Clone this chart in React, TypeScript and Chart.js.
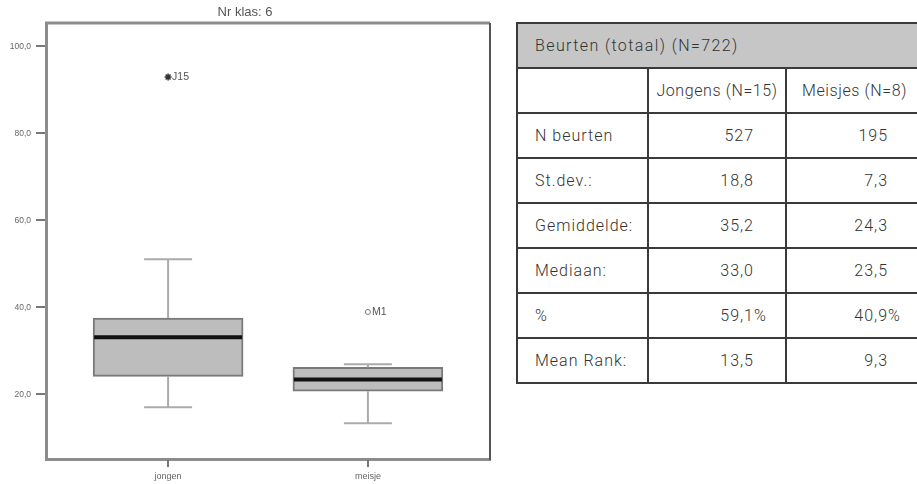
import React, { useEffect, useRef } from 'react';
import { Chart, registerables } from 'chart.js';

Chart.register(...registerables);

// ---- chart data ----
const categories = ['jongen', 'meisje'];
const whiskerLow = [17.0, 13.3];
const q1 = [24.1, 20.7];
const median = [33.1, 23.4];
const q3 = [37.5, 26.2];
const whiskerHigh = [51.0, 26.9];
const outlierValues = [92.9, 38.9];
const outlierLabels = ['J15', 'M1'];
const yTicks = [20, 40, 60, 80, 100];
const chartTitle = 'Nr klas: 6';

// ---- table data ----
const tableTitle = 'Beurten (totaal) (N=722)';
const groupHeaders = ['Jongens (N=15)', 'Meisjes (N=8)'];
const rowLabels = ['N beurten', 'St.dev.:', 'Gemiddelde:', 'Mediaan:', '%', 'Mean Rank:'];
const jongensValues = ['527', '18,8', '35,2', '33,0', '59,1%', '13,5'];
const meisjesValues = ['195', '7,3', '24,3', '23,5', '40,9%', '9,3'];

const BOX_PX = 150;
const CAP_PX = 48;
const FONT = '"Liberation Sans", Arial, sans-serif';

const boxPlugin = {
  id: 'boxExtras',
  afterDatasetsDraw(chart: any) {
    const { ctx, scales } = chart;
    const xs = scales.x;
    const ys = scales.y;
    ctx.save();
    categories.forEach((_, i) => {
      const cx = xs.getPixelForValue(i);
      // whiskers
      ctx.strokeStyle = '#ababab';
      ctx.lineWidth = 2;
      ctx.beginPath();
      ctx.moveTo(cx, ys.getPixelForValue(q3[i]));
      ctx.lineTo(cx, ys.getPixelForValue(whiskerHigh[i]));
      ctx.moveTo(cx, ys.getPixelForValue(q1[i]));
      ctx.lineTo(cx, ys.getPixelForValue(whiskerLow[i]));
      ctx.moveTo(cx - CAP_PX / 2, ys.getPixelForValue(whiskerHigh[i]));
      ctx.lineTo(cx + CAP_PX / 2, ys.getPixelForValue(whiskerHigh[i]));
      ctx.moveTo(cx - CAP_PX / 2, ys.getPixelForValue(whiskerLow[i]));
      ctx.lineTo(cx + CAP_PX / 2, ys.getPixelForValue(whiskerLow[i]));
      ctx.stroke();
      // median
      ctx.strokeStyle = '#111';
      ctx.lineWidth = 4;
      ctx.beginPath();
      ctx.moveTo(cx - BOX_PX / 2 + 1, ys.getPixelForValue(median[i]));
      ctx.lineTo(cx + BOX_PX / 2 - 1, ys.getPixelForValue(median[i]));
      ctx.stroke();
      // outlier label
      ctx.fillStyle = '#555';
      ctx.font = '10.5px ' + FONT;
      ctx.textBaseline = 'middle';
      ctx.textAlign = 'left';
      ctx.fillText(outlierLabels[i], cx + 4, ys.getPixelForValue(outlierValues[i]));
    });
    ctx.restore();
  },
  afterDraw(chart: any) {
    const { ctx, chartArea, scales } = chart;
    ctx.save();
    // tick marks outside the frame
    ctx.strokeStyle = '#777';
    ctx.lineWidth = 2;
    ctx.beginPath();
    scales.y.ticks.forEach((t: any) => {
      const py = Math.round(scales.y.getPixelForValue(t.value));
      ctx.moveTo(chartArea.left - 10, py);
      ctx.lineTo(chartArea.left - 1, py);
    });
    scales.x.ticks.forEach((t: any) => {
      const px = Math.round(scales.x.getPixelForValue(t.value));
      ctx.moveTo(px, chartArea.bottom + 1);
      ctx.lineTo(px, chartArea.bottom + 8);
    });
    ctx.stroke();
    // frame top and right
    ctx.lineWidth = 3;
    ctx.strokeStyle = '#8c8c8c';
    ctx.beginPath();
    ctx.moveTo(chartArea.left - 1, chartArea.top);
    ctx.lineTo(chartArea.right, chartArea.top);
    ctx.stroke();
    ctx.lineWidth = 2;
    ctx.strokeStyle = '#555';
    ctx.beginPath();
    ctx.moveTo(chartArea.right, chartArea.top);
    ctx.lineTo(chartArea.right, chartArea.bottom + 1);
    ctx.stroke();
    ctx.restore();
  },
};

function BoxChart() {
  const ref = useRef<HTMLCanvasElement | null>(null);
  useEffect(() => {
    if (!ref.current) return;
    const chart = new Chart(ref.current, {
      data: {
        datasets: [
          {
            type: 'bar',
            data: categories.map((_, i) => ({ x: i, y: [q1[i], q3[i]] })) as any,
            backgroundColor: '#bdbdbd',
            borderColor: '#7a7a7a',
            borderWidth: 2,
            borderSkipped: false,
            barThickness: BOX_PX,
          } as any,
          {
            type: 'scatter',
            data: categories.map((_, i) => ({ x: i, y: outlierValues[i] })),
            pointStyle: ['star', 'circle'],
            pointRadius: [3.5, 2.5],
            borderColor: ['#333', '#777'],
            backgroundColor: ['#333', '#fff'],
            borderWidth: [1.5, 1],
          } as any,
        ],
      },
      options: {
        animation: false,
        responsive: true,
        maintainAspectRatio: false,
        layout: { padding: { left: 0, right: 10, top: 0, bottom: 0 } },
        plugins: {
          legend: { display: false },
          tooltip: { enabled: false },
          title: {
            display: true,
            text: chartTitle,
            color: '#555',
            font: { family: FONT, size: 13, weight: 'normal' },
            padding: { top: 5, bottom: 2.5 },
          },
        },
        scales: {
          x: {
            type: 'linear',
            offset: false,
            min: -0.611,
            max: 1.611,
            afterBuildTicks: (s: any) => {
              s.ticks = categories.map((_, i) => ({ value: i }));
            },
            afterFit: (s: any) => {
              s.height = 25;
            },
            ticks: {
              callback: (v: any) => categories[Math.round(Number(v))] ?? '',
              color: '#666',
              font: { family: FONT, size: 9 },
              padding: 5,
              maxRotation: 0,
            },
            grid: { offset: false, drawOnChartArea: false, drawTicks: true, tickLength: 7, color: '#777', lineWidth: 2 },
            border: { display: true, color: '#8c8c8c', width: 3 },
          },
          y: {
            type: 'linear',
            min: 5.1,
            max: 105.3,
            afterBuildTicks: (s: any) => {
              s.ticks = yTicks.map((v) => ({ value: v }));
            },
            afterFit: (s: any) => {
              s.width = 46;
            },
            ticks: {
              callback: (v: any) => Number(v).toFixed(1).replace('.', ','),
              color: '#666',
              font: { family: FONT, size: 8.5 },
              padding: 6,
            },
            grid: { drawOnChartArea: false, drawTicks: true, tickLength: 9, color: '#777', lineWidth: 2 },
            border: { display: true, color: '#8c8c8c', width: 3 },
          },
        },
      } as any,
      plugins: [boxPlugin],
    });
    return () => chart.destroy();
  }, []);
  return (
    <div style={{ position: 'absolute', left: 0, top: 0, width: 500, height: 484 }}>
      <canvas ref={ref} />
    </div>
  );
}

const cellBase: React.CSSProperties = {
  border: '2px solid #3a3a3a',
  height: 45,
  padding: 0,
  boxSizing: 'border-box',
  whiteSpace: 'nowrap',
};

function Value({ v }: { v: string }) {
  const pct = v.endsWith('%');
  const num = pct ? v.slice(0, -1) : v;
  return (
    <span style={{ position: 'relative', display: 'inline-block' }}>
      {num}
      {pct && <span style={{ position: 'absolute', left: '100%', top: 0 }}>%</span>}
    </span>
  );
}

function StatsTable() {
  return (
    <div
      style={{
        position: 'absolute',
        left: 516,
        top: 22,
        width: 401,
        height: 400,
        overflow: 'hidden',
      }}
    >
      <table
        style={{
          borderCollapse: 'collapse',
          fontFamily: 'Roboto, "Open Sans", sans-serif',
          fontSize: 16,
          fontWeight: 300,
          letterSpacing: '1px',
          color: '#333',
          width: 406,
          tableLayout: 'fixed',
        }}
      >
        <colgroup>
          <col style={{ width: 131 }} />
          <col style={{ width: 138 }} />
          <col style={{ width: 137 }} />
        </colgroup>
        <tbody>
          <tr>
            <td colSpan={3} style={{ ...cellBase, background: '#c6c6c6', paddingLeft: 17, letterSpacing: '1.4px' }}>
              {tableTitle}
            </td>
          </tr>
          <tr>
            <td style={cellBase}></td>
            {groupHeaders.map((h) => (
              <td key={h} style={{ ...cellBase, textAlign: 'center', letterSpacing: '0.6px' }}>
                {h}
              </td>
            ))}
          </tr>
          {rowLabels.map((label, i) => (
            <tr key={label}>
              <td style={{ ...cellBase, paddingLeft: 17 }}>{label}</td>
              <td style={{ ...cellBase, textAlign: 'right', paddingRight: 31 }}>
                <Value v={jongensValues[i]} />
              </td>
              <td style={{ ...cellBase, textAlign: 'right', paddingRight: 34 }}>
                <Value v={meisjesValues[i]} />
              </td>
            </tr>
          ))}
        </tbody>
      </table>
    </div>
  );
}

export default function App() {
  return (
    <div style={{ position: 'absolute', left: 0, top: 0, width: 917, height: 484 }}>
      <BoxChart />
      <StatsTable />
    </div>
  );
}
